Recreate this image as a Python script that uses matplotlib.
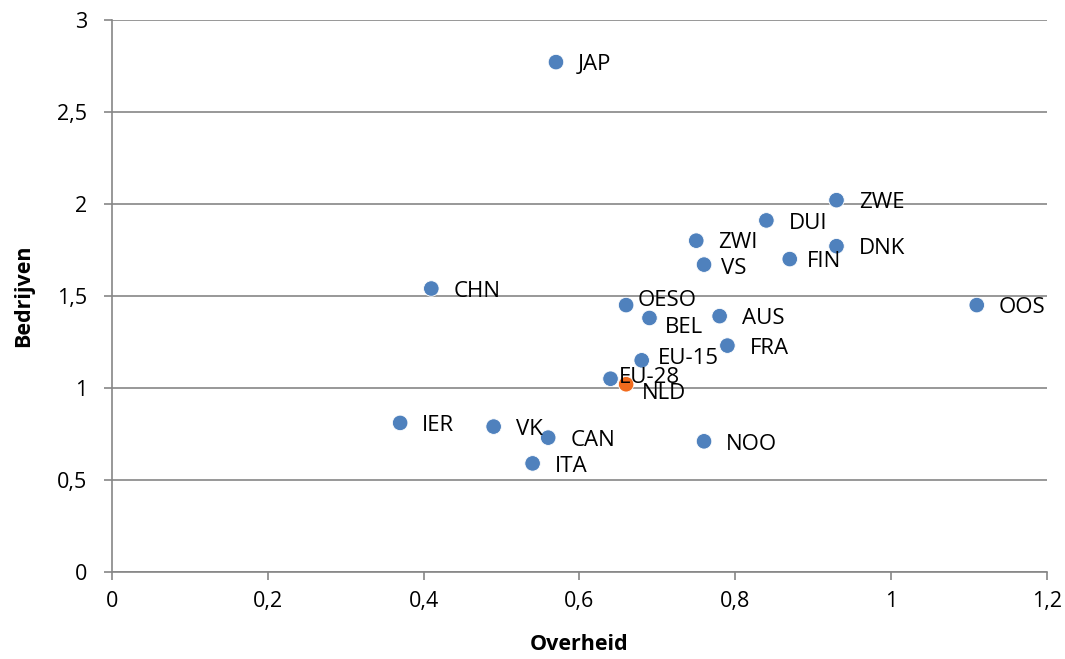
import matplotlib
matplotlib.use("Agg")
import matplotlib.pyplot as plt
from matplotlib.ticker import FuncFormatter

countries = ["JAP", "ZWE", "DUI", "ZWI", "VS", "FIN", "DNK", "OOS", "CHN", "OESO",
             "BEL", "AUS", "FRA", "EU-15", "EU-28", "NLD", "IER", "VK", "CAN", "ITA", "NOO"]
overheid = [0.57, 0.93, 0.84, 0.75, 0.76, 0.87, 0.93, 1.11, 0.41, 0.66,
            0.69, 0.78, 0.79, 0.68, 0.64, 0.66, 0.37, 0.49, 0.56, 0.54, 0.76]
bedrijven = [2.77, 2.02, 1.91, 1.80, 1.67, 1.70, 1.77, 1.45, 1.54, 1.45,
             1.38, 1.39, 1.23, 1.15, 1.05, 1.02, 0.81, 0.79, 0.73, 0.59, 0.71]
highlight = "NLD"

x_ticks = [0, 0.2, 0.4, 0.6, 0.8, 1.0, 1.2]
y_ticks = [0, 0.5, 1.0, 1.5, 2.0, 2.5, 3.0]

# label offsets in points (dx, dy), default right of the marker
default_off = (16, -2)
label_off = {
    "OESO": (8, 3),
    "BEL": (11, -7),
    "VS": (12, -3),
    "FIN": (12, -2),
    "EU-15": (12, 1),
    "EU-28": (6, 1),
    "NLD": (11, -7),
    "ZWI": (16, -1),
}

plt.rcParams['font.family'] = ['Open Sans', 'DejaVu Sans']

fig = plt.figure(figsize=(10.65, 6.59), dpi=100)
ax = fig.add_axes([0.105, 0.132, 0.878, 0.838])

blue = "#4F81BD"
orange = "#F26B1D"
colors = [orange if c == highlight else blue for c in countries]
ax.scatter(overheid, bedrijven, s=125, c=colors, edgecolors="white", linewidths=0.6, zorder=3)

for c, xv, yv in zip(countries, overheid, bedrijven):
    dx, dy = label_off.get(c, default_off)
    ax.annotate(c, (xv, yv), xytext=(dx, dy), textcoords="offset points",
                ha="left", va="center", fontsize=16, color="black", zorder=4)

ax.set_xlim(0, 1.2)
ax.set_ylim(0, 3)
ax.set_xticks(x_ticks)
ax.set_yticks(y_ticks)
fmt = FuncFormatter(lambda v, p: ("%g" % v).replace(".", ","))
ax.xaxis.set_major_formatter(fmt)
ax.yaxis.set_major_formatter(fmt)

ax.grid(axis="y", color="#868686", linewidth=1.2, zorder=0)
ax.set_axisbelow(True)
for s in ["top", "right"]:
    ax.spines[s].set_visible(False)
for s in ["left", "bottom"]:
    ax.spines[s].set_color("#868686")
    ax.spines[s].set_linewidth(1.2)
ax.tick_params(axis="both", direction="out", length=6, width=1.2, color="#868686",
               labelsize=15.5, labelcolor="black")
ax.tick_params(axis="x", pad=8)
ax.tick_params(axis="y", pad=12)

ax.set_xlabel("Overheid", fontsize=15.5, fontweight="bold")
ax.set_ylabel("Bedrijven", fontsize=15.5, fontweight="bold")
ax.xaxis.set_label_coords(0.5, -0.113)
ax.yaxis.set_label_coords(-0.083, 0.5)

fig.savefig("out.png", dpi=100)
